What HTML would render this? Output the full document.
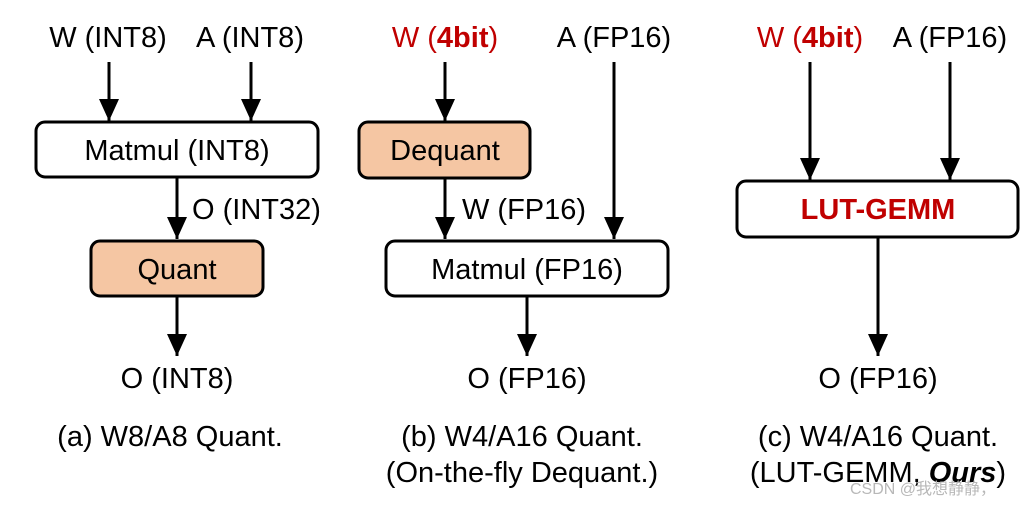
<!DOCTYPE html>
<html><head><meta charset="utf-8"><style>
html,body{margin:0;padding:0;background:#fff;}
svg{display:block;}
text{font-family:"Liberation Sans",Arial,sans-serif;font-size:29px;fill:#000;}
</style></head><body>
<svg width="1030" height="506" viewBox="0 0 1030 506" xmlns="http://www.w3.org/2000/svg">
<defs>
<marker id="a" viewBox="0 0 22 20" refX="22" refY="10" markerWidth="22" markerHeight="20" markerUnits="userSpaceOnUse" orient="auto"><path d="M0,0 L22,10 L0,20z" fill="#000"/></marker></defs>
<g stroke="#000" stroke-width="3" fill="none">
<!-- panel a -->
<line x1="109" y1="62" x2="109" y2="121" marker-end="url(#a)"/>
<line x1="251" y1="62" x2="251" y2="121" marker-end="url(#a)"/>
<rect x="36" y="122" width="282" height="55" rx="9" fill="#fff"/>
<line x1="177" y1="178" x2="177" y2="239" marker-end="url(#a)"/>
<rect x="91" y="241" width="172" height="55" rx="9" fill="#f5c6a3"/>
<line x1="177" y1="297" x2="177" y2="356" marker-end="url(#a)"/>
<!-- panel b -->
<line x1="445" y1="62" x2="445" y2="121" marker-end="url(#a)"/>
<rect x="359" y="122" width="171" height="56" rx="9" fill="#f5c6a3"/>
<line x1="445" y1="179" x2="445" y2="239" marker-end="url(#a)"/>
<line x1="614" y1="62" x2="614" y2="239" marker-end="url(#a)"/>
<rect x="386" y="241" width="282" height="55" rx="9" fill="#fff"/>
<line x1="527" y1="297" x2="527" y2="356" marker-end="url(#a)"/>
<!-- panel c -->
<line x1="810" y1="62" x2="810" y2="180" marker-end="url(#a)"/>
<line x1="950" y1="62" x2="950" y2="180" marker-end="url(#a)"/>
<rect x="737" y="181" width="281" height="56" rx="9" fill="#fff"/>
<line x1="878" y1="238" x2="878" y2="356" marker-end="url(#a)"/>
</g>
<!-- text a -->
<text x="108" y="47" text-anchor="middle">W (INT8)</text>
<text x="250" y="47" text-anchor="middle">A (INT8)</text>
<text x="177" y="160" text-anchor="middle">Matmul (INT8)</text>
<text x="192" y="219">O (INT32)</text>
<text x="177" y="279" text-anchor="middle">Quant</text>
<text x="177" y="388" text-anchor="middle">O (INT8)</text>
<text x="170" y="446" text-anchor="middle">(a) W8/A8 Quant.</text>
<!-- text b -->
<text x="445" y="47" text-anchor="middle" style="fill:#c00000">W (<tspan font-weight="bold" style="fill:#c00000">4bit</tspan>)</text>
<text x="614" y="47" text-anchor="middle">A (FP16)</text>
<text x="445" y="160" text-anchor="middle">Dequant</text>
<text x="462" y="219">W (FP16)</text>
<text x="527" y="279" text-anchor="middle">Matmul (FP16)</text>
<text x="527" y="388" text-anchor="middle">O (FP16)</text>
<text x="522" y="446" text-anchor="middle">(b) W4/A16 Quant.</text>
<text x="522" y="482" text-anchor="middle">(On-the-fly Dequant.)</text>
<!-- text c -->
<text x="810" y="47" text-anchor="middle" style="fill:#c00000">W (<tspan font-weight="bold" style="fill:#c00000">4bit</tspan>)</text>
<text x="950" y="47" text-anchor="middle">A (FP16)</text>
<text x="878" y="219" text-anchor="middle" font-weight="bold" style="fill:#c00000">LUT-GEMM</text>
<text x="878" y="388" text-anchor="middle">O (FP16)</text>
<text x="878" y="446" text-anchor="middle">(c) W4/A16 Quant.</text>
<text x="878" y="482" text-anchor="middle">(LUT-GEMM, <tspan font-weight="bold" font-style="italic">Ours</tspan>)</text>
<text x="850" y="494" style="font-size:16px;fill:#b8b8b8;font-family:'Liberation Sans','Noto Sans CJK SC',sans-serif">CSDN @我想静静，</text>
</svg>
</body></html>
